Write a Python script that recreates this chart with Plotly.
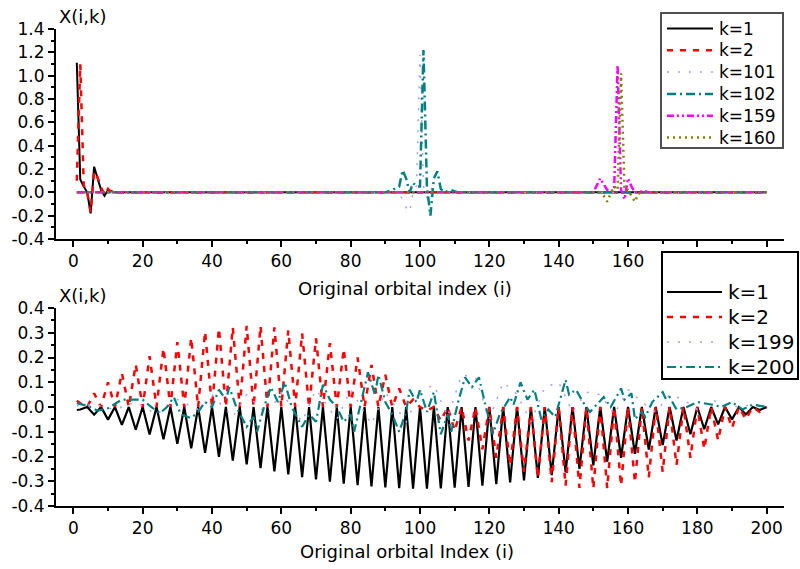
import plotly.graph_objects as go

# ---------------- Top panel data ----------------
top_k1_i = [1, 2, 3, 4, 5, 6, 7, 8, 9, 10, 11, 12, 200]
top_k1_x = [1.11, 0.11, 0.05, 0.0, -0.18, 0.22, 0.12, 0.02, -0.03, 0.02, 0.01, 0.0, 0.0]
top_k2_i = [1, 2, 3, 4, 5, 6, 7, 8, 9, 10, 11, 12, 200]
top_k2_x = [0.10, 1.10, 0.06, 0.0, -0.17, 0.18, 0.13, 0.04, -0.02, 0.03, 0.0, 0.0, 0.0]
top_k101_i = [1, 93, 94, 95, 96, 97, 98, 99, 100, 101, 102, 103, 104, 105, 106, 108, 200]
top_k101_x = [0.0, 0.0, 0.02, -0.08, -0.13, -0.17, 0.0, 0.06, 1.18, 0.05, -0.05, 0.02, 0.05, 0.0, 0.02, 0.0, 0.0]
top_k102_i = [1, 90, 92, 94, 95, 96, 97, 98, 99, 100, 101, 102, 103, 104, 105, 106, 107, 109, 111, 200]
top_k102_x = [0.0, 0.0, 0.02, 0.05, 0.19, 0.12, 0.0, 0.08, 0.05, 0.05, 1.22, 0.05, -0.20, 0.12, 0.18, 0.03, 0.0, 0.02, 0.0, 0.0]
top_k159_i = [1, 150, 151, 152, 153, 154, 155, 156, 157, 158, 159, 160, 161, 162, 165, 166, 200]
top_k159_x = [0.0, 0.0, 0.06, 0.12, 0.07, 0.02, 0.01, 0.02, 1.09, 0.02, -0.06, 0.12, 0.05, 0.0, 0.01, 0.0, 0.0]
top_k160_i = [1, 150, 152, 153, 154, 155, 156, 157, 158, 159, 160, 161, 162, 163, 165, 200]
top_k160_x = [0.0, 0.0, 0.0, -0.03, -0.08, -0.01, 0.05, 0.02, 1.02, 0.02, 0.02, -0.03, -0.08, -0.01, 0.0, 0.0]

# ---------------- Bottom panel data ----------------
bot_i = [1] + list(range(2, 201, 2))
bot_k1 = [-0.012,
          -0.010, 0.0, -0.031, 0.0, -0.051, 0.0, -0.072, 0.0, -0.092, 0.0, -0.111, 0.0, -0.130, 0.0, -0.149, 0.0, -0.167, 0.0, -0.185, 0.0,
          -0.201, 0.0, -0.217, 0.0, -0.232, 0.0, -0.247, 0.0, -0.260, 0.0, -0.272, 0.0, -0.283, 0.0, -0.293, 0.0, -0.302, 0.0, -0.310, 0.0,
          -0.316, 0.0, -0.321, 0.0, -0.325, 0.0, -0.328, 0.0, -0.330, 0.0, -0.330, 0.0, -0.329, 0.0, -0.326, 0.0, -0.323, 0.0, -0.318, 0.0,
          -0.312, 0.0, -0.305, 0.0, -0.297, 0.0, -0.286, 0.0, -0.275, 0.0, -0.263, 0.0, -0.250, 0.0, -0.236, 0.0, -0.221, 0.0, -0.205, 0.0,
          -0.189, 0.0, -0.172, 0.0, -0.154, 0.0, -0.135, 0.0, -0.110, 0.0, -0.090, 0.0, -0.070, 0.0, -0.050, 0.0, -0.030, 0.0, -0.012, 0.0]
bot_k2 = [0.025,
          0.015, 0.0, 0.055, 0.0, 0.100, 0.0, 0.138, 0.0, 0.172, 0.0, 0.205, 0.0, 0.238, 0.0, 0.262, 0.0, 0.280, 0.0, 0.305, 0.0,
          0.318, 0.0, 0.322, 0.0, 0.328, 0.0, 0.328, 0.0, 0.322, 0.0, 0.310, 0.0, 0.298, 0.0, 0.278, 0.0, 0.258, 0.0, 0.235, 0.0,
          0.200, 0.0, 0.170, 0.0, 0.130, 0.0, 0.075, 0.0, 0.030, 0.0, -0.015, 0.0, -0.056, 0.0, -0.096, 0.0, -0.135, 0.0, -0.171, 0.0,
          -0.205, 0.0, -0.235, 0.0, -0.262, 0.0, -0.286, 0.0, -0.304, 0.0, -0.318, 0.0, -0.327, 0.0, -0.330, 0.0, -0.328, 0.0, -0.318, 0.0,
          -0.305, 0.0, -0.285, 0.0, -0.262, 0.0, -0.235, 0.0, -0.205, 0.0, -0.170, 0.0, -0.135, 0.0, -0.085, 0.0, -0.050, 0.0, -0.020, 0.0]
bot_k199_i = [1, 6, 12, 18, 24, 30, 36, 40, 46, 50, 56, 60, 66, 70, 76, 80, 86, 90, 96, 100, 104, 108, 112,
              116, 120, 124, 128, 132, 136, 140, 144, 148, 152, 156, 160, 164, 168, 172, 176, 180, 184, 188, 192, 196, 200]
bot_k199 = [0.005, 0.01, -0.01, 0.02, -0.03, 0.03, -0.01, 0.05, -0.04, 0.05, -0.03, 0.06, -0.06, 0.07, -0.05, 0.07,
            -0.07, 0.06, -0.06, 0.06, 0.09, -0.04, 0.13, 0.12, -0.05, 0.10, 0.05, -0.06, 0.08, 0.10, -0.02, 0.06, 0.05,
            -0.03, 0.07, 0.02, -0.02, 0.05, 0.03, -0.01, 0.03, 0.01, 0.0, 0.01, 0.0]
bot_k200_i = [1, 4, 7, 10, 14, 17, 20, 22, 25, 27, 29, 31, 34, 36, 38, 40, 42, 44, 45, 47, 50, 52, 53, 55, 57, 59,
              61, 63, 66, 68, 70, 72, 74, 76, 78, 80, 81, 83, 85, 87, 88, 90, 92, 94, 96, 97, 99, 100, 102, 104, 106,
              108, 109, 111, 113, 115, 117, 119, 121, 123, 126, 127, 129, 131, 133, 135, 137, 139, 142, 143, 145, 147,
              149, 151, 153, 155, 158, 159, 161, 162, 164, 165, 167, 170, 171, 172, 174, 177, 180, 184, 187, 190, 193, 196, 200]
bot_k200 = [0.015, 0.005, -0.015, -0.005, 0.03, 0.03, 0.03, 0.005, -0.025, 0.0, 0.04, -0.03, -0.045, -0.02, 0.02, 0.0,
            0.07, 0.03, 0.08, 0.0, -0.08, -0.04, -0.10, 0.0, 0.08, 0.02, 0.10, 0.0, -0.08, -0.03, -0.06, 0.09, 0.03, 0.0,
            -0.06, -0.03, -0.10, 0.02, 0.14, 0.05, 0.13, 0.02, -0.03, -0.10, -0.02, 0.07, 0.02, 0.07, -0.02, 0.06, -0.11,
            -0.03, -0.10, 0.02, 0.12, 0.08, 0.12, 0.0, -0.11, -0.03, 0.04, 0.01, 0.10, 0.03, 0.07, -0.05, -0.01, -0.04,
            0.11, 0.05, 0.07, 0.02, -0.02, 0.01, 0.04, 0.0, 0.075, 0.03, 0.055, -0.05, -0.02, -0.04, 0.02, 0.06, 0.03,
            0.04, -0.01, 0.0, 0.02, 0.01, 0.0, 0.02, -0.01, 0.01, 0.0]

x_tick_vals = [0, 20, 40, 60, 80, 100, 120, 140, 160, 180, 200]
top_y_ticks = [1.4, 1.2, 1.0, 0.8, 0.6, 0.4, 0.2, 0.0, -0.2, -0.4]
top_y_text = ["1.4", "1.2", "1.0", "0.8", "0.6", "0.4", "0.2", "0.0", "-0.2", "-0.4"]
bot_y_ticks = [0.4, 0.3, 0.2, 0.1, 0.0, -0.1, -0.2, -0.3, -0.4]
bot_y_text = ["0.4", "0.3", "0.2", "0.1", "0.0", "-0.1", "-0.2", "-0.3", "-0.4"]

FONT = "DejaVu Sans"
W, H = 800, 569

fig = go.Figure()

top_series = [
    ("k=1", top_k1_i, top_k1_x, "#000000", "solid", 2),
    ("k=2", top_k2_i, top_k2_x, "#ff0000", "6px,7px", 2.5),
    ("k=101", top_k101_i, top_k101_x, "#a0a0ff", "2px,9px", 1.5),
    ("k=102", top_k102_i, top_k102_x, "#008080", "9px,4px,2px,4px", 2.5),
    ("k=159", top_k159_i, top_k159_x, "#ff00ff", "7px,3px,2px,3px,2px,3px", 2.5),
    ("k=160", top_k160_i, top_k160_x, "#808000", "2px,4px", 2.5),
]
for name, xi, yv, col, dash, w in top_series:
    fig.add_trace(go.Scatter(x=xi, y=yv, mode="lines", name=name, showlegend=False,
                             line=dict(color=col, dash=dash, width=w),
                             xaxis="x", yaxis="y"))

bot_series = [
    ("k=1", bot_i, bot_k1, "#000000", "solid", 2.2),
    ("k=2", bot_i, bot_k2, "#ff0000", "6px,7px", 2.5),
    ("k=199", bot_k199_i, bot_k199, "#a0a0ff", "2px,9px", 1.5),
    ("k=200", bot_k200_i, bot_k200, "#008080", "9px,4px,2px,4px", 2.2),
]
for name, xi, yv, col, dash, w in bot_series:
    fig.add_trace(go.Scatter(x=xi, y=yv, mode="lines", name=name, showlegend=False,
                             line=dict(color=col, dash=dash, width=w),
                             xaxis="x2", yaxis="y2"))

x_dom = [56 / W, 784 / W]
top_dom = [1 - 239 / H, 1 - 29 / H]
bot_dom = [1 - 506 / H, 1 - 308 / H]

def xaxis(anchor):
    return dict(domain=x_dom, anchor=anchor, range=[-5, 205], tickmode="array",
                tickvals=x_tick_vals, ticks="outside", ticklen=6, tickwidth=2, tickcolor="black",
                showline=True, linewidth=2, linecolor="black", showgrid=False, zeroline=False,
                tickfont=dict(family=FONT, size=17, color="black"), automargin=False,
                minor=dict(tickmode="linear", tick0=0, dtick=10, ticks="outside", ticklen=3,
                           tickwidth=2, tickcolor="black", showgrid=False))

def yaxis(anchor, dom, rng, tv, tt, minor_dt):
    return dict(domain=dom, anchor=anchor, range=rng, tickmode="array", tickvals=tv, ticktext=tt,
                ticks="outside", ticklen=6, tickwidth=2, tickcolor="black",
                showline=True, linewidth=2, linecolor="black", showgrid=False, zeroline=False,
                tickfont=dict(family=FONT, size=17, color="black"), automargin=False,
                minor=dict(tickmode="linear", tick0=0, dtick=minor_dt, ticks="outside", ticklen=3,
                           tickwidth=2, tickcolor="black", showgrid=False))

# ---------------- custom legends (shapes + text) ----------------
shapes = []
annotations = []

def px(x):
    return x / W

def py(y):
    return 1 - y / H

def legend_box(x0, y0, x1, y1, border, rows, y_first, y_step, lx0, lx1, tx, fsize):
    shapes.append(dict(type="rect", xref="paper", yref="paper", x0=px(x0), x1=px(x1),
                       y0=py(y1), y1=py(y0), line=dict(color=border, width=2), fillcolor="white",
                       layer="above"))
    for n, (name, col, dash, w) in enumerate(rows):
        yy = y_first + n * y_step
        shapes.append(dict(type="line", xref="paper", yref="paper", x0=px(lx0), x1=px(lx1),
                           y0=py(yy), y1=py(yy), line=dict(color=col, dash=dash, width=w),
                           layer="above"))
        annotations.append(dict(text=name, x=px(tx), y=py(yy), xref="paper", yref="paper",
                                xanchor="left", yanchor="middle", showarrow=False,
                                font=dict(family=FONT, size=fsize, color="black")))

legend_box(661, 13, 783, 148, "#505050",
           [(s[0], s[3], s[4], s[5]) for s in top_series],
           28.5, 21.8, 667, 713, 717, 17)
legend_box(662, 252, 798, 379, "#000000",
           [(s[0], s[3], s[4], s[5]) for s in bot_series],
           292, 25, 667, 722, 726, 20)

annotations += [
    dict(text="X(i,k)", x=px(57), y=py(16), xref="paper", yref="paper",
         xanchor="left", yanchor="middle", showarrow=False,
         font=dict(family=FONT, size=18, color="black")),
    dict(text="X(i,k)", x=px(57), y=py(295), xref="paper", yref="paper",
         xanchor="left", yanchor="middle", showarrow=False,
         font=dict(family=FONT, size=18, color="black")),
    dict(text="Original orbital index (i)", x=px(405), y=py(288), xref="paper", yref="paper",
         xanchor="center", yanchor="middle", showarrow=False,
         font=dict(family=FONT, size=18, color="black")),
    dict(text="Original orbital Index (i)", x=px(407), y=py(551), xref="paper", yref="paper",
         xanchor="center", yanchor="middle", showarrow=False,
         font=dict(family=FONT, size=18, color="black")),
]

fig.update_layout(
    width=W, height=H, autosize=False,
    margin=dict(l=0, r=0, t=0, b=0),
    paper_bgcolor="white", plot_bgcolor="white",
    xaxis=xaxis("y"),
    yaxis=yaxis("x", top_dom, [-0.4, 1.4], top_y_ticks, top_y_text, 0.1),
    xaxis2=xaxis("y2"),
    yaxis2=yaxis("x2", bot_dom, [-0.4, 0.4], bot_y_ticks, bot_y_text, 0.05),
    showlegend=False,
    shapes=shapes,
    annotations=annotations,
)

fig.write_html("out.html", config={"displayModeBar": False},
               post_script="document.body.style.margin='0px';document.body.style.overflow='hidden';")
